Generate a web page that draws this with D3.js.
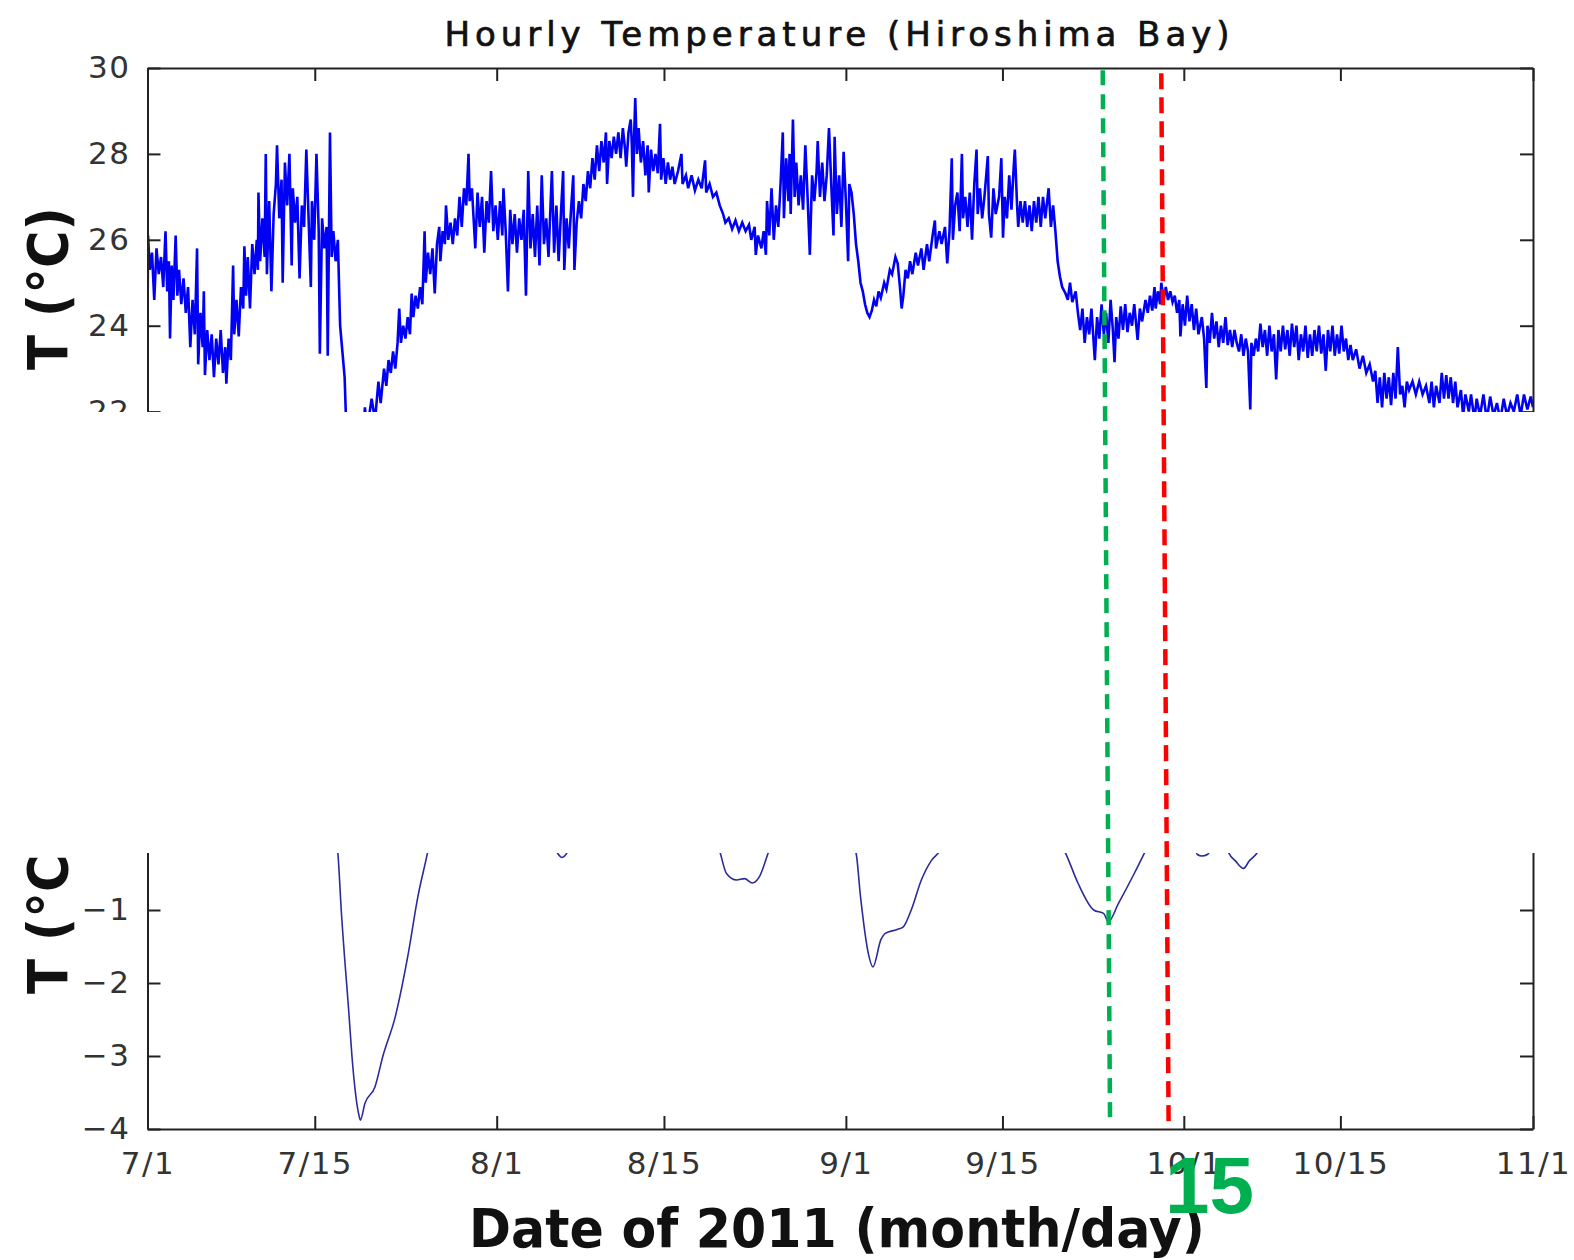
<!DOCTYPE html>
<html>
<head>
<meta charset="utf-8">
<script src="https://cdn.jsdelivr.net/npm/d3@7"></script>
<style>
  body { margin: 0; background: #fff; }
  svg { display: block; }
  .axis text { font-family: "DejaVu Sans"; font-size: 31px; fill: #333; letter-spacing: 1.5px; }
  .axis path, .axis line { stroke: #222; stroke-width: 2; }
</style>
</head>
<body>
<script>
const width = 1574, height = 1260;
const startDate = Date.UTC(2011, 6, 1);
const dayMs = 864e5;

// hourly temperature as [days since 7/1, °C]
const hourlyTemp = [
  [0,24.0],[0.05,26.1],[0.2,25.3],[0.4,25.7],[0.6,24.6],[0.8,25.8],[1.0,25.2],[1.2,25.6],[1.4,24.9],[1.6,26.2],
  [1.75,24.8],[1.9,25.5],[2.0,23.7],[2.15,25.4],[2.3,24.6],[2.5,26.1],[2.65,24.7],[2.8,25.3],[3.0,24.5],[3.2,25.1],
  [3.4,24.3],[3.6,24.9],[3.8,23.5],[4.0,24.6],[4.2,23.8],[4.4,25.8],[4.5,23.1],[4.7,24.3],[4.9,23.5],[5.0,24.8],
  [5.1,22.85],[5.3,23.9],[5.5,23.2],[5.7,23.8],[5.9,22.8],[6.1,23.7],[6.3,23.1],[6.5,23.9],[6.7,22.9],[6.9,23.5],
  [7.0,22.65],[7.2,23.7],[7.4,23.2],[7.6,25.4],[7.7,23.8],[7.9,24.6],[8.1,23.75],[8.3,24.9],[8.5,24.4],[8.6,25.85],
  [8.75,24.7],[8.9,25.6],[9.1,24.4],[9.3,25.9],[9.5,25.2],[9.7,26.0],[9.8,25.3],[9.85,27.1],[10.0,25.5],[10.2,26.5],
  [10.4,25.6],[10.5,28.0],[10.6,25.2],[10.8,26.9],[11.0,24.8],[11.2,26.6],[11.4,27.3],[11.5,28.2],[11.7,26.5],[11.9,27.4],
  [12.0,25.0],[12.2,27.8],[12.4,26.8],[12.6,28.0],[12.8,25.4],[12.9,27.2],[13.1,26.4],[13.3,27.0],[13.5,25.1],[13.7,26.8],
  [13.9,26.3],[14.1,28.1],[14.3,26.5],[14.5,24.9],[14.6,26.9],[14.8,26.0],[15.0,28.0],[15.2,26.2],[15.3,23.35],[15.5,26.5],
  [15.7,25.8],[15.9,26.3],[16.0,23.3],[16.2,28.5],[16.35,25.6],[16.5,26.2],[16.7,25.5],[16.9,26.0],[17.1,24.0],[17.3,23.4],
  [17.5,22.8],[17.6,22.0],[17.8,21.4],[18.5,21.0],[19.0,20.8],[19.3,22.1],[19.5,21.6],[19.9,22.3],[20.2,21.8],[20.5,22.7],
  [20.7,22.2],[21.0,23.0],[21.2,22.6],[21.4,23.2],[21.6,22.9],[21.8,23.4],[22.0,23.0],[22.2,23.6],[22.35,24.4],[22.5,23.6],
  [22.7,24.0],[22.9,23.7],[23.1,24.2],[23.3,23.8],[23.45,24.75],[23.6,24.2],[23.8,24.7],[24.0,24.4],[24.2,24.9],[24.4,24.5],
  [24.6,26.2],[24.7,25.0],[24.9,25.7],[25.1,25.2],[25.3,25.8],[25.5,24.75],[25.7,25.9],[25.9,26.3],[26.0,25.5],[26.2,26.2],
  [26.4,25.9],[26.5,26.8],[26.7,26.0],[26.9,26.4],[27.1,25.9],[27.3,26.5],[27.5,26.1],[27.7,27.0],[27.9,26.3],[28.1,27.2],
  [28.3,26.8],[28.5,28.0],[28.6,26.9],[28.8,27.2],[29.1,25.8],[29.3,27.1],[29.5,26.3],[29.7,27.0],[29.9,25.7],[30.1,26.9],
  [30.3,26.4],[30.5,27.6],[30.7,26.2],[30.9,26.8],[31.1,26.0],[31.3,26.9],[31.5,26.1],[31.6,27.2],[31.8,26.2],[32.0,24.8],
  [32.2,26.7],[32.4,25.9],[32.6,26.6],[32.8,25.7],[33.0,26.5],[33.2,26.0],[33.4,26.7],[33.6,24.7],[33.8,27.6],[34.0,25.8],
  [34.2,26.6],[34.4,25.6],[34.6,26.8],[34.8,25.4],[35.0,27.5],[35.2,25.9],[35.4,26.5],[35.6,25.6],[35.9,27.6],[36.1,25.7],
  [36.3,26.8],[36.5,25.5],[36.7,26.6],[36.9,27.6],[37.0,25.3],[37.2,26.5],[37.4,25.8],[37.6,26.7],[37.8,27.5],[37.9,25.3],
  [38.1,26.4],[38.3,26.9],[38.5,26.5],[38.7,27.3],[38.9,26.9],[39.1,27.6],[39.3,27.2],[39.5,27.9],[39.7,27.4],[39.9,28.2],
  [40.1,27.6],[40.3,28.3],[40.5,27.8],[40.7,28.5],[40.8,27.3],[41.0,28.3],[41.2,27.9],[41.4,28.4],[41.6,28.0],[41.8,28.5],
  [42.0,27.9],[42.2,28.6],[42.4,28.1],[42.5,27.7],[42.7,28.5],[42.9,28.8],[43.0,28.2],[43.1,27.0],[43.2,28.4],[43.3,29.3],
  [43.45,28.0],[43.6,28.6],[43.8,27.8],[44.0,28.3],[44.2,27.5],[44.4,28.2],[44.5,27.1],[44.7,28.1],[44.9,27.6],[45.1,28.0],
  [45.3,27.55],[45.5,28.7],[45.6,27.4],[45.8,27.9],[46.0,27.3],[46.2,27.8],[46.4,27.4],[46.6,27.7],[46.8,27.3],[47.1,27.6],
  [47.4,28.0],[47.5,27.3],[47.8,27.5],[48.0,27.2],[48.3,27.5],[48.6,27.15],[48.9,27.4],[49.2,27.2],[49.5,27.85],[49.6,27.1],
  [49.9,27.3],[50.2,27.0],[50.5,27.1],[50.8,26.8],[51.1,26.6],[51.3,26.4],[51.6,26.5],[51.9,26.25],[52.2,26.45],[52.5,26.2],
  [52.8,26.4],[53.1,26.2],[53.4,26.35],[53.6,26.0],[53.9,26.3],[54.0,25.65],[54.2,26.1],[54.5,25.8],[54.7,26.2],[54.9,25.65],
  [55.0,26.9],[55.2,26.1],[55.4,27.2],[55.6,26.0],[55.8,26.8],[56.0,26.3],[56.2,27.3],[56.4,28.5],[56.5,26.5],[56.7,27.9],
  [56.9,26.9],[57.0,28.0],[57.1,26.6],[57.3,28.8],[57.45,27.0],[57.6,27.8],[57.8,26.8],[58.0,27.5],[58.2,26.7],[58.4,28.2],
  [58.6,27.0],[58.8,25.65],[59.0,27.5],[59.2,26.9],[59.4,27.6],[59.5,28.3],[59.7,27.0],[59.9,27.8],[60.1,26.9],[60.3,27.5],
  [60.5,28.6],[60.7,27.3],[60.9,26.1],[61.0,28.4],[61.2,26.6],[61.4,27.5],[61.6,26.3],[61.8,28.05],[62.0,26.9],[62.2,25.5],
  [62.3,27.3],[62.5,27.1],[62.7,26.6],[62.9,25.9],[63.1,25.5],[63.3,25.0],[63.5,24.8],[63.7,24.5],[63.9,24.3],[64.1,24.2],
  [64.3,24.35],[64.5,24.6],[64.7,24.45],[64.9,24.8],[65.1,24.65],[65.4,25.0],[65.6,24.85],[65.9,25.3],[66.1,25.2],[66.4,25.6],
  [66.6,25.45],[66.8,24.9],[66.95,24.4],[67.1,24.7],[67.3,25.3],[67.5,25.1],[67.7,25.5],[67.9,25.2],[68.2,25.7],[68.4,25.4],
  [68.7,25.8],[68.9,25.3],[69.2,25.9],[69.4,25.5],[69.7,26.1],[69.9,26.45],[70.0,25.8],[70.3,26.2],[70.5,25.9],[70.8,26.3],
  [71.0,25.45],[71.2,26.2],[71.4,27.9],[71.5,26.0],[71.7,26.8],[71.9,27.1],[72.1,26.2],[72.3,28.0],[72.4,26.5],[72.6,27.0],
  [72.8,26.3],[73.0,27.1],[73.2,26.0],[73.4,27.3],[73.6,28.1],[73.7,26.6],[73.9,27.2],[74.1,26.5],[74.3,27.0],[74.6,27.95],
  [74.7,26.6],[74.9,26.05],[75.1,27.2],[75.3,26.6],[75.6,27.0],[75.8,27.9],[75.95,26.05],[76.1,27.0],[76.3,26.5],[76.5,27.5],
  [76.7,26.7],[76.9,27.7],[77.0,28.1],[77.2,26.8],[77.3,26.3],[77.5,26.9],[77.7,26.4],[77.9,26.9],[78.1,26.3],[78.3,26.8],
  [78.5,26.2],[78.7,26.9],[78.9,26.4],[79.1,27.0],[79.3,26.3],[79.5,27.0],[79.7,26.5],[80.0,27.2],[80.2,26.3],[80.4,26.8],
  [80.6,26.2],[80.8,25.5],[81.0,25.15],[81.2,24.9],[81.5,24.75],[81.7,24.6],[81.9,25.0],[82.1,24.55],[82.4,24.8],[82.6,24.3],
  [82.8,23.9],[83.0,24.4],[83.2,23.6],[83.4,24.2],[83.6,23.8],[83.8,24.4],[84.0,23.6],[84.1,23.2],[84.3,24.2],[84.5,23.7],
  [84.7,24.5],[84.9,23.8],[85.1,24.3],[85.3,23.6],[85.5,24.6],[85.7,23.9],[85.85,23.15],[86.0,24.2],[86.2,23.7],[86.4,24.45],
  [86.6,23.9],[86.8,24.5],[87.0,23.85],[87.2,24.3],[87.4,24.0],[87.6,24.5],[87.9,23.67],[88.1,24.4],[88.3,24.1],[88.6,24.6],
  [88.8,24.3],[89.0,24.7],[89.2,24.35],[89.4,24.9],[89.5,24.4],[89.7,24.8],[89.9,24.5],[90.0,25.0],[90.2,24.6],[90.4,24.9],
  [90.6,24.6],[90.8,24.8],[91.0,24.55],[91.2,24.7],[91.4,24.3],[91.6,24.6],[91.7,23.75],[91.9,24.5],[92.1,24.0],[92.3,24.7],
  [92.5,24.1],[92.7,24.5],[92.9,23.9],[93.1,24.4],[93.3,23.8],[93.6,24.2],[93.8,23.7],[94.0,22.55],[94.1,24.0],[94.3,23.6],
  [94.5,24.3],[94.7,23.7],[94.9,24.1],[95.1,23.5],[95.3,24.0],[95.5,23.6],[95.7,24.2],[95.9,23.55],[96.1,23.9],[96.3,23.5],
  [96.5,23.9],[96.7,23.6],[96.9,23.4],[97.1,23.8],[97.3,23.3],[97.5,23.7],[97.7,23.4],[97.9,22.05],[98.0,23.6],[98.2,23.3],
  [98.4,23.7],[98.6,23.4],[98.8,24.05],[99.0,23.5],[99.2,23.9],[99.4,23.3],[99.6,24.0],[99.8,23.4],[100.0,23.8],[100.2,22.75],
  [100.4,23.9],[100.6,23.4],[100.8,24.0],[101.0,23.45],[101.2,23.9],[101.4,23.3],[101.6,24.05],[101.8,23.5],[102.0,24.0],[102.2,23.2],
  [102.4,23.8],[102.6,23.4],[102.8,24.0],[103.0,23.25],[103.2,23.8],[103.4,23.3],[103.6,23.9],[103.8,23.4],[104.0,24.0],[104.2,23.35],
  [104.4,23.8],[104.6,22.95],[104.8,23.9],[105.0,23.4],[105.2,24.0],[105.4,23.3],[105.6,23.8],[105.8,23.35],[106.0,24.0],[106.2,23.4],
  [106.4,23.7],[106.6,23.2],[106.8,23.55],[107.0,23.2],[107.3,23.45],[107.6,23.0],[107.9,23.3],[108.2,22.9],[108.5,23.1],[108.8,22.7],
  [109.0,22.95],[109.2,22.2],[109.4,22.8],[109.6,22.1],[109.8,22.9],[110.0,22.3],[110.2,22.8],[110.4,22.15],[110.6,22.9],[110.8,22.3],
  [111.0,23.5],[111.2,22.4],[111.4,22.6],[111.6,22.1],[111.8,22.7],[112.0,22.5],[112.3,22.7],[112.6,22.4],[112.9,22.7],[113.2,22.4],
  [113.5,22.6],[113.8,22.2],[114.0,22.7],[114.2,22.1],[114.4,22.6],[114.7,22.2],[114.9,22.9],[115.1,22.3],[115.3,22.85],[115.5,22.3],
  [115.7,22.8],[115.9,22.2],[116.1,22.7],[116.3,22.1],[116.6,22.5],[116.8,21.9],[117.0,22.4],[117.3,22.0],[117.5,22.4],[117.8,21.8],
  [118.0,22.3],[118.3,21.9],[118.6,22.4],[118.9,21.8],[119.2,22.35],[119.5,21.9],[119.8,22.2],[120.1,21.8],[120.4,22.3],[120.7,21.9],
  [121.0,22.2],[121.3,22.0],[121.6,22.4],[121.9,21.9],[122.2,22.4],[122.5,22.05],[122.8,22.35],[123.0,22.1]
];

// lower panel: smooth temperature anomaly [days since 7/1, °C]
const anomaly = [
  [0,0.3],[4,0.6],[8,0.4],[12,0.5],[15,0.6],[16.3,0.3],[16.9,-0.22],[17.2,-1.0],[17.9,-2.46],[18.15,-3.0],
  [18.8,-3.83],[18.9,-3.88],[19.3,-3.65],[20.2,-3.42],[20.9,-3.0],[22.0,-2.46],[23.1,-1.64],[24.0,-0.82],[24.85,-0.22],[25.5,0.3],
  [28,0.5],[32,0.2],[35.5,0.0],[36.3,-0.2],[36.8,-0.28],[37.3,-0.2],[38,0.1],[42,0.6],[46,0.5],[49,0.2],
  [50.8,-0.2],[51.4,-0.5],[52.3,-0.59],[53.0,-0.57],[53.7,-0.63],[54.3,-0.55],[55.1,-0.22],[56,0.2],[59,0.5],[61.5,0.2],
  [62.9,-0.22],[63.3,-0.82],[64.0,-1.6],[64.4,-1.78],[65.1,-1.41],[65.5,-1.32],[66.5,-1.27],[67.1,-1.23],[67.8,-1.0],[68.7,-0.59],
  [69.6,-0.32],[70.3,-0.2],[71.5,0.2],[75,0.5],[79,0.3],[81.5,-0.22],[82.6,-0.63],[84.0,-1.0],[84.9,-1.05],[85.3,-1.16],
  [86.2,-0.91],[87.6,-0.5],[88.5,-0.22],[89.5,0.1],[91,0.2],[92.8,0.0],[93.2,-0.24],[93.6,-0.26],[94.1,-0.24],[94.6,-0.1],
  [95.5,0.0],[96.0,-0.22],[96.6,-0.33],[97.3,-0.43],[97.8,-0.33],[98.5,-0.22],[99.5,0.1],[103,0.4],[108,0.5],[113,0.3],
  [118,0.4],[123,0.3]
];

const xTickDays = [0, 14.85, 31, 45.85, 62, 75.9, 92, 105.9, 123];
const xTickLabels = ["7/1", "7/15", "8/1", "8/15", "9/1", "9/15", "10/1", "10/15", "11/1"];
const topTicks = [22, 24, 26, 28, 30];
const bottomTicks = [-4, -3, -2, -1];

// the two dashed event markers (slightly slanted in the original)
const markerColors = ["#00b050", "#ff0000"];
const markerTopDay = [84.8, 90.0];
const markerBottomDay = [85.45, 90.65];
const markerTopT = [29.95, 29.88];
const markerBottomT = [-3.84, -3.92];

const toDate = d => new Date(startDate + d * dayMs);

const x = d3.scaleUtc()
  .domain([toDate(0), toDate(123)])
  .range([147.5, 1533]);
const yTop = d3.scaleLinear().domain([22, 30]).range([411.6, 68]);
const yBot = d3.scaleLinear().domain([-4, 0]).range([1129, 837]);

const svg = d3.select('body').append('svg')
  .attr('width', width)
  .attr('height', height);

const defs = svg.append('defs');
defs.append('clipPath').attr('id', 'clipTop')
  .append('rect').attr('x', 147.5).attr('y', 68).attr('width', 1385.5).attr('height', 430);
defs.append('clipPath').attr('id', 'clipBot')
  .append('rect').attr('x', 147.5).attr('y', 837).attr('width', 1385.5).attr('height', 292);

const tickDates = xTickDays.map(toDate);

// lines
svg.append('path')
  .datum(hourlyTemp)
  .attr('clip-path', 'url(#clipTop)')
  .attr('fill', 'none')
  .attr('stroke', '#0000f5')
  .attr('stroke-width', 2.6)
  .attr('stroke-linejoin', 'miter')
  .attr('d', d3.line().x(d => x(toDate(d[0]))).y(d => yTop(d[1])));

svg.append('path')
  .datum(anomaly)
  .attr('clip-path', 'url(#clipBot)')
  .attr('fill', 'none')
  .attr('stroke', '#2b2b9c')
  .attr('stroke-width', 1.6)
  .attr('d', d3.line().x(d => x(toDate(d[0]))).y(d => yBot(d[1])).curve(d3.curveMonotoneX));

// top panel frame
svg.append('g').attr('class', 'axis')
  .attr('transform', 'translate(0,68)')
  .call(d3.axisTop(x).tickValues(tickDates).tickSize(-13).tickSizeOuter(0).tickFormat(''));
svg.append('g').attr('class', 'axis')
  .attr('transform', 'translate(147.5,0)')
  .call(d3.axisLeft(yTop).tickValues(topTicks).tickSize(-13).tickSizeOuter(0).tickPadding(17));
svg.append('g').attr('class', 'axis')
  .attr('transform', 'translate(1533,0)')
  .call(d3.axisRight(yTop).tickValues(topTicks).tickSize(-13).tickSizeOuter(0).tickFormat(''));

// bottom panel frame
svg.append('g').attr('class', 'axis')
  .attr('transform', 'translate(0,1129)')
  .call(d3.axisBottom(x).tickValues(tickDates).tickSize(-13).tickSizeOuter(0).tickPadding(23)
    .tickFormat((d, i) => xTickLabels[i]));
svg.append('g').attr('class', 'axis')
  .attr('transform', 'translate(147.5,0)')
  .call(d3.axisLeft(yBot).tickValues(bottomTicks).tickSize(-13).tickSizeOuter(0).tickPadding(17)
    .tickFormat(d3.format('d')));
svg.append('g').attr('class', 'axis')
  .attr('transform', 'translate(1533,0)')
  .call(d3.axisRight(yBot).tickValues(bottomTicks).tickSize(-13).tickSizeOuter(0).tickFormat(''));

// y labels
[[67, 370], [67, 994]].forEach(p => {
  svg.append('text')
    .attr('transform', 'translate(' + p[0] + ',' + p[1] + ') rotate(-90)')
    .attr('font-family', 'DejaVu Sans')
    .attr('font-weight', 'bold')
    .attr('font-size', '56px')
    .attr('textLength', 163)
    .attr('lengthAdjust', 'spacingAndGlyphs')
    .attr('fill', '#111')
    .text('T (°C)');
});

// white band hiding the middle of the figure
svg.append('rect')
  .attr('x', 0).attr('y', 412)
  .attr('width', width).attr('height', 441)
  .attr('fill', '#fff');

// title
svg.append('text')
  .attr('x', 837).attr('y', 46)
  .attr('text-anchor', 'middle')
  .attr('font-family', 'DejaVu Sans')
  .attr('font-size', '34px')
  .attr('textLength', 785)
  .attr('fill', '#111')
  .attr('stroke', '#111')
  .attr('stroke-width', 0.7)
  .text('Hourly Temperature (Hiroshima Bay)');

// x label
svg.append('text')
  .attr('x', 837).attr('y', 1247)
  .attr('text-anchor', 'middle')
  .attr('font-family', 'DejaVu Sans')
  .attr('font-weight', 'bold')
  .attr('font-size', '54px')
  .attr('textLength', 736)
  .attr('lengthAdjust', 'spacingAndGlyphs')
  .attr('fill', '#111')
  .text('Date of 2011 (month/day)');

// dashed markers
markerColors.forEach((c, i) => {
  svg.append('line')
    .attr('x1', x(toDate(markerTopDay[i])))
    .attr('y1', yTop(markerTopT[i]))
    .attr('x2', x(toDate(markerBottomDay[i])))
    .attr('y2', yBot(markerBottomT[i]))
    .attr('stroke', c)
    .attr('stroke-width', 4.5)
    .attr('stroke-dasharray', i === 0 ? '15,9' : '16,8');
});

svg.append('text')
  .attr('x', 1165).attr('y', 1213)
  .attr('font-family', 'Liberation Sans')
  .attr('font-weight', 'bold')
  .attr('font-size', '80px')
  .attr('fill', '#00b050')
  .text('15');
</script>
</body>
</html>
